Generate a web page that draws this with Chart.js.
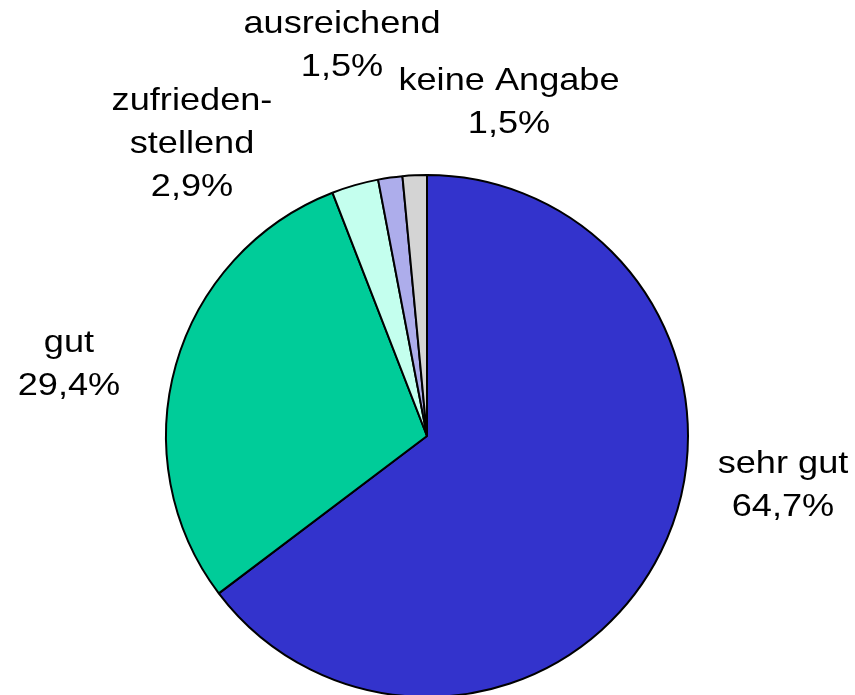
<!DOCTYPE html>
<html>
<head>
<meta charset="utf-8">
<script src="https://cdn.jsdelivr.net/npm/chart.js@4/dist/chart.umd.min.js"></script>
<style>
  html, body { margin: 0; padding: 0; background: #fff; overflow: hidden; }
  #wrap { width: 855px; height: 698px; position: relative; }
</style>
</head>
<body>
<div id="wrap"><canvas id="pie"></canvas></div>
<script>
// categories and values (percent)
var categories = ["sehr gut", "gut", "zufriedenstellend", "ausreichend", "keine Angabe"];
var labelLines = [["sehr gut"], ["gut"], ["zufrieden-", "stellend"], ["ausreichend"], ["keine Angabe"]];
var values = [64.7, 29.4, 2.9, 1.5, 1.5];
var colors = ["#3333CC", "#00CC99", "#C4FFEE", "#ADADEB", "#D4D4D4"];

// label placement relative to the pie centre (x offset of text centre, y offset of first baseline)
var labelOffsets = [[356, 37], [-358, -84], [-235, -326], [-85, -403], [82, -346]];

var pieLabels = {
    id: 'pieLabels',
    afterDatasetsDraw: function(chart) {
        var ctx = chart.ctx;
        var arcs = chart.getDatasetMeta(0).data;
        ctx.save();
        ctx.fillStyle = '#000';
        ctx.font = '32px "Liberation Sans", Arial, sans-serif';
        ctx.textAlign = 'center';
        ctx.textBaseline = 'alphabetic';
        arcs.forEach(function(arc, i) {
            var lines = labelLines[i].concat([values[i].toFixed(1).replace('.', ',') + '%']);
            var x = arc.x + labelOffsets[i][0];
            var y = arc.y + labelOffsets[i][1];
            lines.forEach(function(t, j) {
                ctx.save();
                ctx.translate(x, y + j * 43);
                ctx.scale(1.13, 1);
                ctx.fillText(t, 0, 0);
                ctx.restore();
            });
        });
        ctx.restore();
    }
};

var ctx = document.getElementById('pie').getContext('2d');
var pieChart = new Chart(ctx, {
    type: 'pie',
    data: {
        labels: categories,
        datasets: [{
            data: values,
            backgroundColor: colors,
            borderColor: '#000',
            borderWidth: 2
        }]
    },
    options: {
        responsive: true,
        maintainAspectRatio: false,
        animation: false,
        layout: {
            padding: { top: 174, bottom: 0, left: 165, right: 166 }
        },
        plugins: {
            legend: { display: false },
            tooltip: { enabled: false }
        }
    },
    plugins: [pieLabels]
});
</script>
</body>
</html>
